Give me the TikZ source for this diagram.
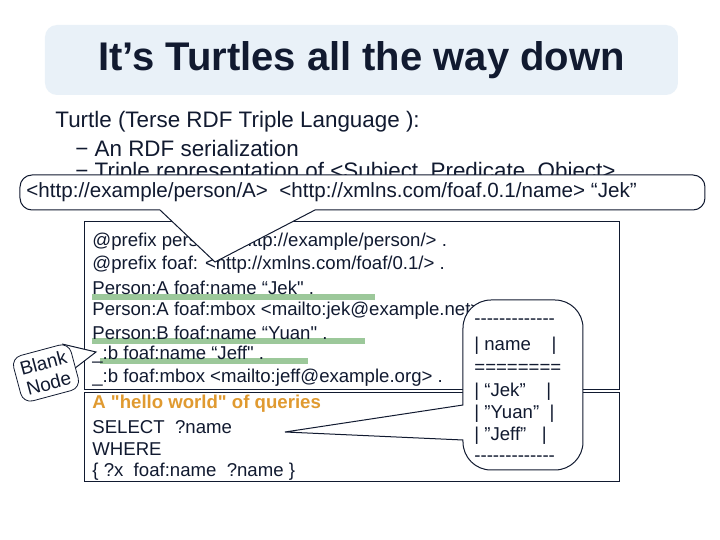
\documentclass[tikz,border=0pt]{standalone}
\usepackage{fontspec}
\defaultfontfeatures[\rmfamily]{Scale=1}
\setmainfont{Liberation Sans}
\newcommand{\dq}{\symbol{34}}
\newcommand{\dashrow}{-{}-{}-{}-{}-{}-{}-{}-{}-{}-{}-{}-{}-}
\begin{document}
\begin{tikzpicture}[x=0.5pt,y=-0.5pt,
  txt/.style={text=ink,anchor=west,inner sep=0pt,font=\fontsize{11.2}{13}\selectfont},
  code/.style={text=ink,anchor=west,inner sep=0pt,font=\fontsize{9.3}{11}\selectfont},
  call/.style={draw=ink,fill=white,line width=0.5pt},
  hl/.style={draw=hlg,line width=2.6pt}]
\definecolor{ink}{HTML}{111A30}
\definecolor{titlebg}{HTML}{E9F1F8}
\definecolor{hlg}{HTML}{9CC89A}
\definecolor{orng}{HTML}{E09A30}
\useasboundingbox (0,0) rectangle (720,540);
\fill[white] (0,0) rectangle (720,540);
% title
\node[fill=titlebg,rounded corners=6pt,minimum width=316.5pt,minimum height=35pt,text=ink,font=\fontsize{20}{24}\selectfont\bfseries] (title) at (361.5,60) {It’s Turtles all the way down};
% bullets
\node[txt] (t1) at (55,122) {Turtle (Terse RDF Triple Language ):};
\node[txt] (t2) at (75,148) {− An RDF serialization};
\node[txt] (t3) at (75,173) {− Triple representation of <Subject, Predicate, Object>};
% code box
\draw[ink,line width=0.5pt] (85,222) rectangle (620,390);
\draw[ink,line width=0.5pt] (85,393) rectangle (620,482);
\draw[hl] (92,297) -- (375,297);
\draw[hl] (92,341) -- (365,341);
\draw[hl] (100,361) -- (308,361);
\node[code] (c1) at (92,242) {@prefix person: <http://example/person/> .};
\node[code] (c2) at (92,265) {@prefix foaf: <http://xmlns.com/foaf/0.1/> .};
\node[code] (c3) at (92,288) {Person:A foaf:name “Jek\dq{} .};
\node[code] (c4) at (92,311) {Person:A foaf:mbox <mailto:jek@example.net> .};
\node[code] (c5) at (92,333) {Person:B foaf:name “Yuan\dq{} .};
\node[code] (c6) at (92,355) {\_:b foaf:name “Jeff\dq{} .};
\node[code] (c7) at (92,378) {\_:b foaf:mbox <mailto:jeff@example.org> .};
\node[code,text=orng,font=\fontsize{9.3}{11}\selectfont\bfseries] (q1) at (92,404) {A \dq{}hello world\dq{} of queries};
\node[code] (q2) at (92,427) {SELECT ~?name};
\node[code] (q3) at (92,449) {WHERE};
\node[code] (q4) at (92,472) {\{ ?x ~foaf:name ~?name \}};
% top callout
\coordinate (tip1) at (215,262);
\draw[call] [rounded corners=6pt] (20,210) -- (20,175) -- (705,175) -- (705,210) [sharp corners] -- (315,210) -- (tip1) -- (160,210) [rounded corners=6pt] -- cycle;
\node[txt,font=\fontsize{10.3}{12}\selectfont] (cal1) at (26,192) {<http://example/person/A>~ <http://xmlns.com/foaf.0.1/name> “Jek”};
% right callout
\coordinate (tip2) at (285,432);
\draw[call] [rounded corners=14pt] (463,405) -- (463,300) -- (583,300) -- (583,470) -- (463,470) [sharp corners] -- (463,440) -- (tip2) -- cycle;
\begin{scope}[every node/.style={code,font=\fontsize{9.3}{11}\selectfont}]
\node (r1) at (474,322) {\dashrow};
\node (r2) at (474,346) {| name ~~ |};
\node (r3) at (474,369) {========};
\node (r4) at (474,392) {| “Jek” ~~ |};
\node (r5) at (474,414) {| ”Yuan” ~|};
\node (r6) at (474,436) {| ”Jeff” ~~|};
\node (r7) at (474,459) {\dashrow};
\end{scope}
% blank node callout
\coordinate (tip3) at (96,352);
\coordinate (b1) at (62,344);
\coordinate (b2) at (70,372);
\fill[white] (b1) -- (tip3) -- (b2) -- (55,365) -- cycle;
\draw[ink,line width=0.5pt] (b1) -- (tip3) -- (b2);
\node[draw=ink,fill=white,rounded corners=5pt,rotate=15,align=center,inner sep=3pt,text=ink,font=\fontsize{9.5}{10.5}\selectfont] (bn) at (46,373) {Blank\\Node};
\end{tikzpicture}
\end{document}
